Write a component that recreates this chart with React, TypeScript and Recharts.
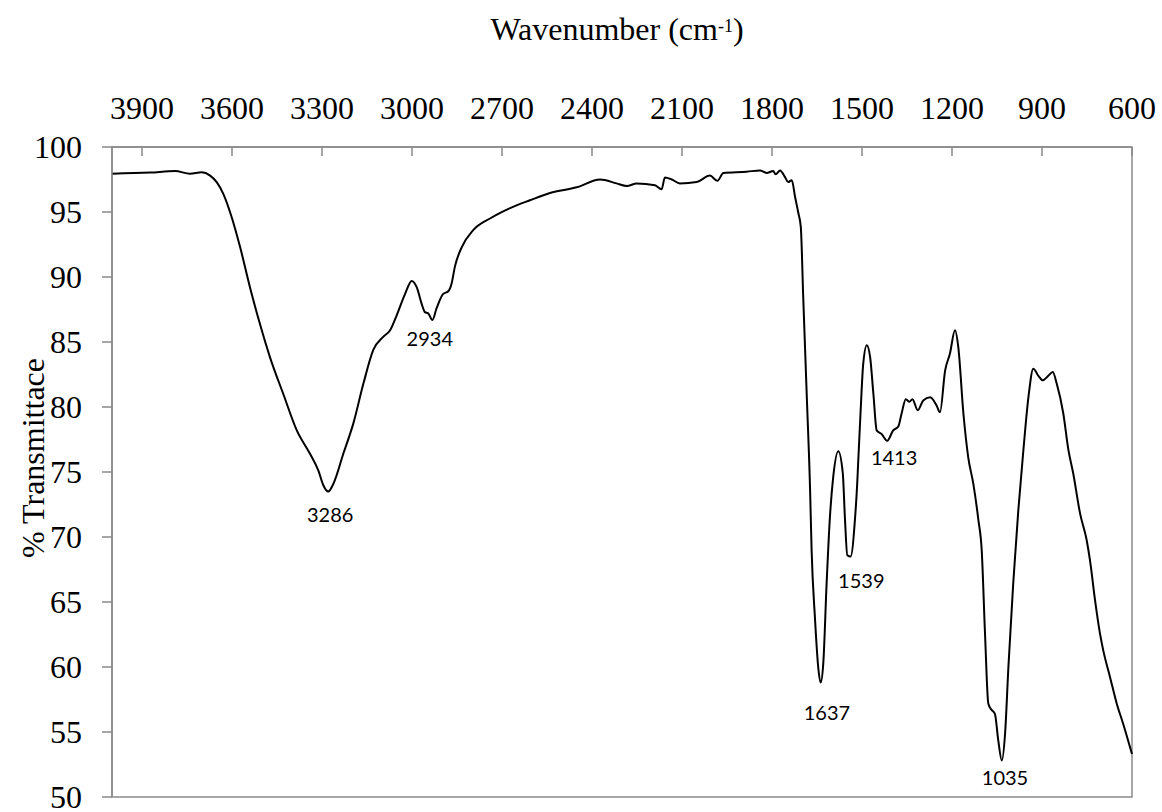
import { Line, LineChart, ReferenceArea, ReferenceDot, XAxis, YAxis } from 'recharts';

// FTIR spectrum (wavenumber in cm-1, % transmittance)
const wavenumbers = [
  4000, 3873, 3790, 3740, 3701, 3673, 3651, 3629, 3601, 3573, 3540, 3507, 3473, 3429, 3384, 3340,
  3312, 3296, 3279, 3262, 3229, 3196, 3162, 3129, 3096, 3073, 3051, 3023, 3001, 2984, 2968, 2957,
  2946, 2932, 2918, 2896, 2879, 2868, 2857, 2834, 2796, 2740, 2673, 2607, 2540, 2451, 2373, 2318,
  2284, 2251, 2190, 2168, 2157, 2134, 2107, 2051, 2007, 1982, 1962, 1884, 1840, 1818, 1796, 1788,
  1773, 1757, 1746, 1734, 1723, 1712, 1704, 1696, 1684, 1673, 1668, 1657, 1646, 1638, 1629, 1618,
  1607, 1596, 1579, 1564, 1557, 1549, 1538, 1523, 1516, 1513, 1505, 1496, 1484, 1473, 1462, 1451,
  1434, 1416, 1396, 1379, 1368, 1354, 1342, 1332, 1314, 1296, 1273, 1251, 1240, 1223, 1207, 1190,
  1179, 1162, 1146, 1129, 1112, 1101, 1090, 1079, 1068, 1057, 1046, 1034, 1023, 1012, 996, 979,
  962, 945, 929, 912, 898, 879, 864, 851, 829, 812, 796, 773, 751, 740, 723, 707,
  696, 673, 651, 629, 600,
];
const transmittance = [
  97.95, 98.03, 98.15, 97.95, 98.05, 97.8, 97.3, 96.4, 94.6, 92.3, 89.2, 86.4, 83.8, 81.0, 78.2, 76.4,
  75.1, 74.0, 73.5, 74.1, 76.4, 78.7, 81.8, 84.4, 85.4, 85.9, 87.05, 88.7, 89.7, 89.2, 87.95, 87.3,
  87.2, 86.7, 87.6, 88.7, 88.9, 89.5, 90.8, 92.3, 93.6, 94.5, 95.3, 95.9, 96.46, 96.9, 97.5, 97.2,
  97.0, 97.2, 97.05, 96.75, 97.65, 97.5, 97.2, 97.3, 97.8, 97.4, 98.0, 98.1, 98.2, 98.0, 98.15, 97.9,
  98.2, 97.7, 97.3, 97.45, 96.15, 94.9, 93.85, 88.5, 80.8, 73.6, 69.0, 63.85, 60.0, 58.8, 60.3, 66.4,
  71.5, 74.6, 76.6, 74.9, 71.5, 68.6, 68.5, 71.5, 74.1, 75.6, 79.5, 83.3, 84.75, 83.85, 81.0, 78.2,
  77.9, 77.4, 78.2, 78.5, 79.5, 80.6, 80.4, 80.6, 79.75, 80.5, 80.75, 80.1, 79.6, 82.8, 84.1, 85.9,
  84.6, 79.5, 76.15, 74.1, 71.3, 69.0, 62.6, 57.2, 56.7, 56.4, 54.4, 52.8, 54.9, 60.0, 66.4, 72.05,
  76.7, 80.8, 82.95, 82.4, 82.05, 82.4, 82.7, 81.8, 79.5, 76.7, 74.9, 71.8, 69.75, 68.2, 65.1, 62.6,
  61.3, 59.2, 57.2, 55.6, 53.3,
];

const xTicks = [3900, 3600, 3300, 3000, 2700, 2400, 2100, 1800, 1500, 1200, 900, 600];
const yTicks = [50, 55, 60, 65, 70, 75, 80, 85, 90, 95, 100];

// labelled absorption bands
const peakWavenumbers = [3286, 2934, 1637, 1539, 1413, 1035];
const peakTransmittance = [73.5, 86.7, 58.8, 68.5, 77.4, 52.8];

// where each band label sits relative to its minimum (px)
const labelShift = [
  [4, 30],
  [-2, 26],
  [6, 37],
  [11, 31],
  [6, 24],
  [3.5, 24],
];

const serif = '"Liberation Serif", "Times New Roman", serif';
const sans = 'Lato, "Open Sans", sans-serif';
const grey = '#8a8a8a';

const XTick = ({ x, y, payload }: any) => (
  <text x={x} y={y} textAnchor="middle" fontFamily={serif} fontSize={32} fill="#000">
    {payload.value}
  </text>
);

const YTick = ({ x, y, payload }: any) => (
  <text x={x} y={y} dy="0.33em" textAnchor="end" fontFamily={serif} fontSize={32} fill="#000">
    {payload.value}
  </text>
);

const renderTitle = () => (
  <text x={617} y={40} textAnchor="middle" fontFamily={serif} fontSize={32} fill="#000">
    Wavenumber (cm
    <tspan dy={-8} fontSize={18}>-1</tspan>
    <tspan dy={8}>)</tspan>
  </text>
);

const renderYTitle = () => (
  <text
    x={44}
    y={458}
    transform="rotate(-90, 44, 458)"
    textAnchor="middle"
    fontFamily={serif}
    fontSize={32}
    fill="#000"
  >
    % Transmittace
  </text>
);

export default function App() {
  const data = wavenumbers.map((wn, i) => ({ wn, t: transmittance[i] }));

  return (
    <div style={{ position: 'absolute', left: 0, top: 0, background: '#fff' }}>
      <LineChart width={1162} height={812} data={data} margin={{ top: 87, right: 30, bottom: 15, left: 32 }}>
        <ReferenceArea x1={4000} x2={600} y1={50} y2={100} fill="none" stroke={grey} strokeWidth={1.5} />
        <XAxis
          dataKey="wn"
          type="number"
          orientation="top"
          domain={[600, 4000]}
          reversed
          ticks={xTicks}
          interval={0}
          height={60}
          tickSize={-9}
          tickMargin={37}
          stroke={grey}
          strokeWidth={1.5}
          tick={<XTick />}
          label={renderTitle}
        />
        <YAxis
          type="number"
          domain={[50, 100]}
          ticks={yTicks}
          interval={0}
          width={80}
          tickSize={10}
          tickMargin={20}
          stroke={grey}
          strokeWidth={1.5}
          tick={<YTick />}
          label={renderYTitle}
        />
        <Line
          dataKey="t"
          type="monotone"
          stroke="#000"
          strokeWidth={2}
          dot={false}
          activeDot={false}
          isAnimationActive={false}
        />
        {peakWavenumbers.map((wn, i) => (
          <ReferenceDot
            key={wn}
            x={wn}
            y={peakTransmittance[i]}
            r={0}
            fill="none"
            stroke="none"
            label={(p: any) => (
              <text
                x={p.viewBox.x + labelShift[i][0]}
                y={p.viewBox.y + labelShift[i][1]}
                textAnchor="middle"
                fontFamily={sans}
                fontSize={20}
                fill="#000"
              >
                {wn}
              </text>
            )}
          />
        ))}
      </LineChart>
    </div>
  );
}
